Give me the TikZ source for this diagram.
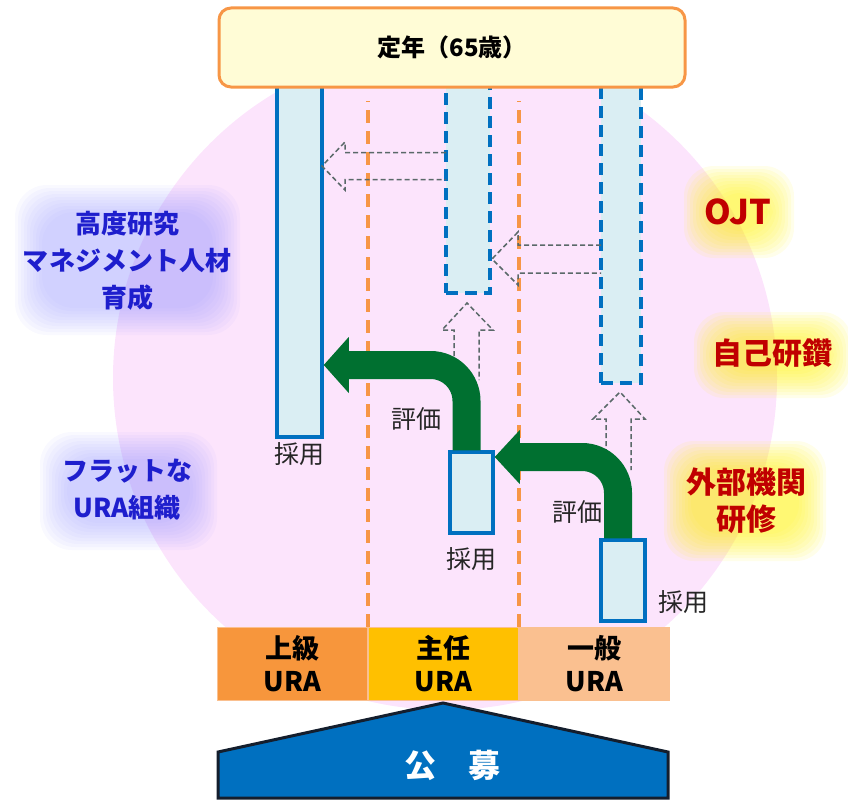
\documentclass[tikz,border=0pt]{standalone}
\usepackage{fontspec}
\setmainfont{Noto Sans CJK JP}
\usetikzlibrary{arrows.meta, positioning}

\definecolor{ringpink}{RGB}{252,228,252}
\definecolor{capyellow}{RGB}{255,252,214}
\definecolor{capborder}{RGB}{247,150,70}
\definecolor{barfill}{RGB}{218,238,243}
\definecolor{barblue}{RGB}{0,112,192}
\definecolor{laneorange}{RGB}{247,150,70}
\definecolor{promgreen}{RGB}{0,112,48}
\definecolor{hintgray}{RGB}{90,105,105}
\definecolor{seniorcell}{RGB}{247,150,60}
\definecolor{chiefcell}{RGB}{255,192,0}
\definecolor{staffcell}{RGB}{250,192,144}
\definecolor{kouboblue}{RGB}{0,112,192}
\definecolor{kouboline}{RGB}{20,30,45}
\definecolor{goalblue}{RGB}{30,30,205}
\definecolor{trainred}{RGB}{192,0,0}

\begin{document}
\begin{tikzpicture}[
    x=1pt, y=-1pt,
    capbox/.style={
        draw=capborder,
        line width=3pt,
        fill=capyellow,
        rounded corners=12pt,
        minimum width=466pt,
        minimum height=79pt,
        font=\bfseries\fontsize{24}{28}\selectfont,
    },
    post/.style={
        draw=barblue,
        line width=3.5pt,
        fill=barfill,
        inner sep=0pt,
    },
    futurepost/.style={
        post,
        dash pattern=on 12pt off 7pt,
    },
    lane/.style={
        draw=laneorange,
        line width=3.5pt,
        dash pattern=on 13pt off 8pt,
    },
    hint/.style={
        draw=hintgray,
        line width=1.5pt,
        dash pattern=on 5pt off 3pt,
    },
    promote/.style={
        draw=promgreen,
        line width=28pt,
        rounded corners=36pt,
    },
    rank/.style={
        minimum width=150pt,
        minimum height=73pt,
        draw=laneorange!60,
        line width=1pt,
        align=center,
        font=\bfseries\fontsize{27}{33}\selectfont,
    },
    tag/.style={
        font=\fontsize{25}{28}\selectfont,
        text=black!85,
    },
    goal/.style={
        text=goalblue,
        align=center,
        font=\bfseries\fontsize{26}{37}\selectfont,
    },
    train/.style={
        text=trainred,
        align=center,
        font=\bfseries\fontsize{30}{37}\selectfont,
    },
    glowL/.style={fill=blue!40!white, opacity=0.06, rounded corners=32pt},
    glowR/.style={fill=yellow!90!white, opacity=0.09, rounded corners=30pt},
]
    \useasboundingbox (0,0) rectangle (848,800);

    % Background circle
    \fill[ringpink] (445,378) circle[radius=332];

    % Glows
    \foreach \d in {0,3,...,27} {
        \fill[glowL] (15+\d,185+\d) rectangle (240-\d,335-\d);
        \fill[glowL] (40+\d,432+\d) rectangle (217-\d,550-\d);
        \fill[glowR] (684+\d,166+\d) rectangle (794-\d,258-\d);
        \fill[glowR] (694+\d,312+\d) rectangle (852-\d,398-\d);
        \fill[glowR] (664+\d,441+\d) rectangle (826-\d,561-\d);
    }

    % Rank cells
    \node[rank, fill=seniorcell] (upper) at (292.5,663.5) {上級\\URA};
    \node[rank, fill=chiefcell, right=0pt of upper] (chief) {主任\\URA};
    \node[rank, fill=staffcell, right=0pt of chief] (staff) {一般\\URA};

    % Lanes
    \draw[lane] (upper.north east) -- ++(0,-526);
    \draw[lane] (chief.north east) -- ++(0,-526);

    % Posts
    \node[post, minimum width=45pt, minimum height=352pt] (senior) at (299.5,261) {};
    \node[futurepost, minimum width=44pt, minimum height=208pt] (middash) at (468,189) {};
    \node[futurepost, minimum width=40pt, minimum height=298pt] (rightdash) at (621,234) {};
    \node[post, minimum width=43pt, minimum height=81pt] (midsmall) at (471.5,492.5) {};
    \node[post, minimum width=44pt, minimum height=81pt] (rightsmall) at (623,580.5) {};

    % Dashed hints
    \draw[hint] (446,152.5) -- (345,152.5) -- (345,142) -- (322,166)
        -- (345,190) -- (345,179.5) -- (446,179.5);
    \draw[hint] (601,245) -- (518,245) -- (518,232) -- (492,259)
        -- (518,285) -- (518,273) -- (601,273);
    \draw[hint] (454,380) -- (454,330) -- (442,330) -- (467,303)
        -- (493,330) -- (479,330) -- (479,380);
    \draw[hint] (606,470) -- (606,419) -- (593,419) -- (620,392)
        -- (645,419) -- (631,419) -- (631,470);

    % Promotions
    \coordinate (tip1) at ([yshift=-104pt]senior.east);
    \coordinate (tip2) at ([yshift=35.5pt]midsmall.east);
    \draw[promote] ([xshift=-5pt]midsmall.north) |- ([xshift=25pt]tip1);
    \fill[promgreen] ([xshift=25pt,yshift=28pt]tip1) -- (tip1) -- ([xshift=25pt,yshift=-28pt]tip1) -- cycle;
    \draw[promote] ([xshift=-5pt]rightsmall.north) |- ([xshift=25pt]tip2);
    \fill[promgreen] ([xshift=25pt,yshift=27pt]tip2) -- (tip2) -- ([xshift=25pt,yshift=-27pt]tip2) -- cycle;

    % Post labels
    \node[tag, below=0pt of senior] (hire1) {採用};
    \node[tag, below=9pt of midsmall] (hire2) {採用};
    \node[tag, anchor=west] (hire3) at ([xshift=8pt,yshift=21pt]rightsmall.south east) {採用};
    \node[tag] (eval1) at (416,419) {評価};
    \node[tag] (eval2) at (577,512) {評価};

    % Retirement
    \node[capbox] (retire) at (452,47.5) {定年（65歳）};

    % Open recruitment
    \draw[line width=3pt, draw=kouboline, fill=kouboblue]
        (218,752) -- (443,703) -- (668,752) -- (668,798) -- (218,798) -- cycle;
    \node[text=white, font=\bfseries\fontsize{32}{36}\selectfont] (koubo) at (452,765) {公\quad 募};

    % Side texts
    \node[goal] (advanced) at (127,261) {高度研究\\マネジメント人材\\育成};
    \node[goal] (flat) at (127,490) {フラットな\\URA組織};
    \node[train, font=\bfseries\fontsize{34}{38}\selectfont] (ojt) at (738,212) {OJT};
    \node[train] (selfstudy) at (772,353) {自己研鑽};
    \node[train] (external) at (746,501) {外部機関\\研修};
\end{tikzpicture}
\end{document}
